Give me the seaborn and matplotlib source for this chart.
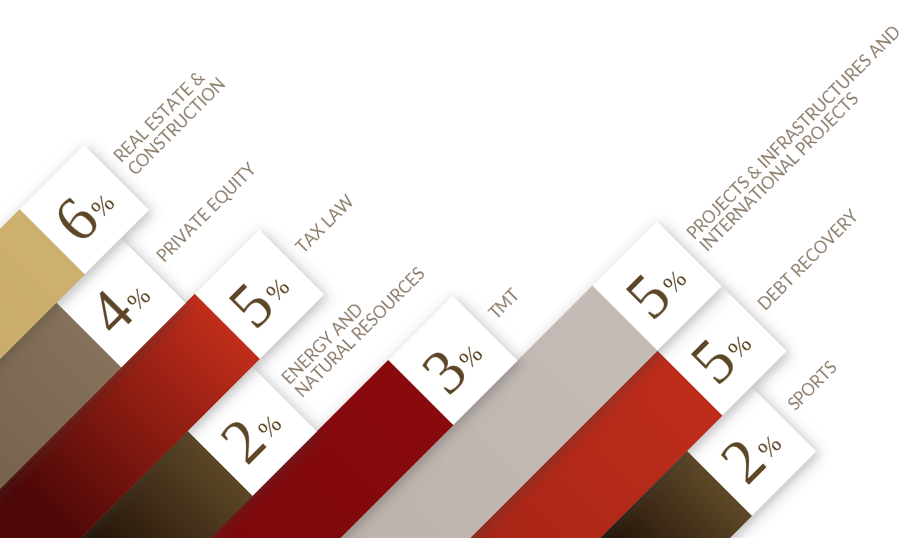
import numpy as np
import matplotlib
matplotlib.use("Agg")
import matplotlib.pyplot as plt
import matplotlib.transforms as mtransforms
import seaborn as sns

sns.set_theme(style="white")

# Practice areas and their share
categories = ["REAL ESTATE &\nCONSTRUCTION", "PRIVATE EQUITY", "TAX LAW",
              "ENERGY AND\nNATURAL RESOURCES", "TMT",
              "PROJECTS & INFRASTRUCTURES AND\nINTERNATIONAL PROJECTS",
              "DEBT RECOVERY", "SPORTS"]
values = [6, 4, 5, 2, 3, 5, 5, 2]

# layout of the diagonal strips (strip frame, pixels): where each strip ends
strip_end = [-43, -83, 21, -81, 111, 308, 308, 258]
strip_step = 91.8
first_strip = 162
square_len = 91
strip_start = -900

# colours: near the square -> far end
col_near = ["#cfb16f", "#86725a", "#c12e1b", "#5d4727", "#8a0a0e", "#c5bcb7", "#bf2d1b", "#5f4929"]
col_far = ["#c6a766", "#6c5843", "#4e0808", "#1b0c03", "#7a080b", "#bfb5b0", "#a32517", "#1f0f05"]
fade_len = [320, 320, 260, 170, 320, 320, 320, 130]

W, H = 916, 538
fig = plt.figure(figsize=(W / 100, H / 100), dpi=100)
ax = fig.add_axes([0, 0, 1, 1])
ax.set_xlim(0, W)
ax.set_ylim(H, 0)
ax.axis("off")
ax.set_autoscale_on(False)

# strip frame: t along the strip (up-right), b across it (down-right)
c = 1 / np.sqrt(2)
strip_tr = mtransforms.Affine2D(np.array([[c, c, 0], [-c, c, 0], [0, 0, 1]])) + ax.transData

# pixel grid for shadows and shading
X, Y = np.meshgrid(np.arange(W) + 0.5, np.arange(H) + 0.5)
T = (X - Y) * c
B = (X + Y) * c


def soft(v, lo, hi, sig):
    return 1 / (1 + np.exp(-1.7 * (v - lo) / sig)) / (1 + np.exp(1.7 * (v - hi) / sig))


def hex_rgb(h):
    return np.array([int(h[i:i + 2], 16) / 255 for i in (1, 3, 5)])


n = len(values)
for i in range(n - 1, -1, -1):
    z = 100 - 10 * i
    b0 = first_strip + strip_step * i
    bc = b0 + strip_step / 2
    t_end = strip_end[i]
    t_sq = t_end - square_len

    # soft drop shadow falling onto the next strip
    a = 0.32 * soft(T, strip_start, t_end + 1, 6) * soft(B, b0 + 3, b0 + strip_step + 5, 6)
    sh = np.zeros((H, W, 4))
    sh[..., :3] = 0.25
    sh[..., 3] = a
    ax.imshow(sh, extent=(0, W, H, 0), zorder=z - 5, interpolation="bilinear")

    # coloured strip
    bars = ax.barh(bc, t_sq - strip_start, left=strip_start, height=strip_step,
                   color=col_near[i], linewidth=0, transform=strip_tr, zorder=z)
    bar = bars.patches[0]
    frac = np.clip((t_sq - T) / fade_len[i], 0, 1)[..., None]
    img = hex_rgb(col_near[i]) * (1 - frac) + hex_rgb(col_far[i]) * frac
    im = ax.imshow(img, extent=(0, W, H, 0), zorder=z + 1, interpolation="bilinear")
    im.set_clip_path(bar.get_path(), bar.get_transform())

    # white square at the end
    ax.barh(bc, square_len, left=t_sq, height=strip_step, color="white",
            linewidth=0, transform=strip_tr, zorder=z + 2)

    tc = t_sq + square_len / 2
    ax.text(tc + 3, bc + 20, str(values[i]), ha="right", va="baseline", rotation=45,
            rotation_mode="anchor", transform=strip_tr, fontsize=45,
            family="Liberation Serif", color="#5b4424", zorder=300)
    ax.text(tc + 5, bc + 18, "%", ha="left", va="baseline", rotation=45,
            rotation_mode="anchor", transform=strip_tr, fontsize=18,
            family="Liberation Serif", color="#5b4424", zorder=300)
    ax.text(t_end + 14, bc - 2, categories[i], ha="left", va="center", rotation=45,
            rotation_mode="anchor", transform=strip_tr, fontsize=12, family="Lato",
            color="#8b7a68", linespacing=1.15, zorder=300)

fig.savefig("out.png", dpi=100, facecolor="white")
